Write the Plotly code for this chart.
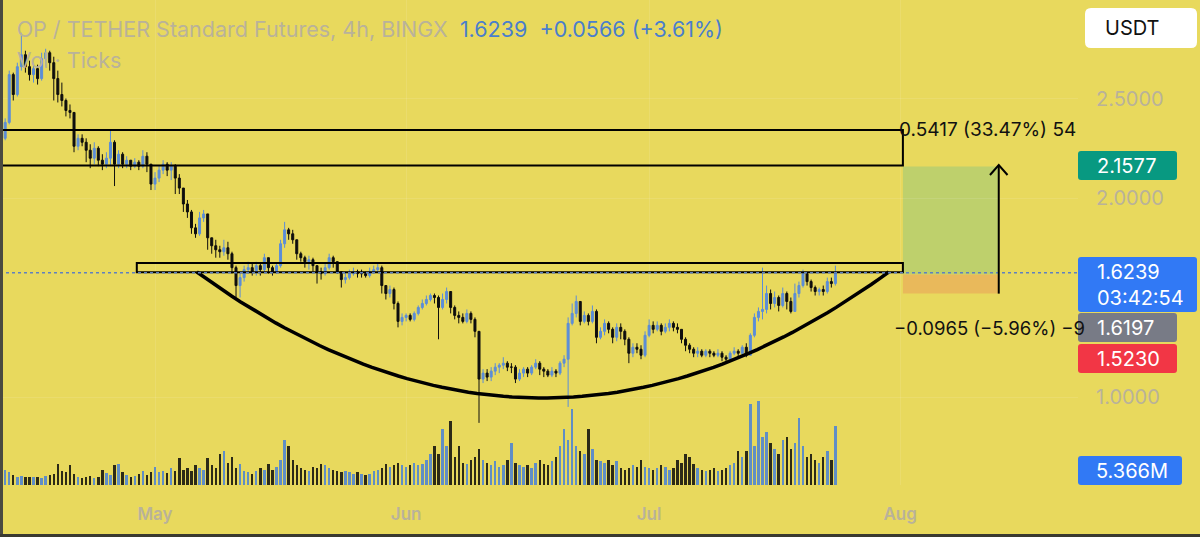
import numpy as np
import pandas as pd
import plotly.graph_objects as go

# ---------------- data (12h candles, OP/USDT) ----------------
START = "2023-04-11 12:00"
FIRST_OPEN = 2.28

close = [
    2.27, 2.30, 2.38, 2.62, 2.52, 2.66, 2.72, 2.66, 2.62, 2.65,
    2.60, 2.70, 2.73, 2.68, 2.60, 2.52, 2.49, 2.44, 2.43, 2.26,
    2.30, 2.28, 2.24, 2.20, 2.25, 2.19, 2.17, 2.20, 2.28, 2.17,
    2.22, 2.17, 2.19, 2.16, 2.18, 2.16, 2.21, 2.17, 2.07, 2.10,
    2.14, 2.17, 2.14, 2.16, 2.10, 2.05, 1.97, 1.93, 1.85, 1.82,
    1.90, 1.92, 1.80, 1.76, 1.74, 1.73, 1.75, 1.72, 1.65, 1.56,
    1.60, 1.64, 1.65, 1.63, 1.66, 1.64, 1.70, 1.65, 1.63, 1.66,
    1.77, 1.84, 1.82, 1.79, 1.72, 1.70, 1.68, 1.69, 1.66, 1.63,
    1.62, 1.65, 1.70, 1.68, 1.63, 1.59, 1.60, 1.62, 1.63, 1.62,
    1.62, 1.61, 1.63, 1.64, 1.65, 1.56, 1.52, 1.54, 1.47, 1.38,
    1.40, 1.41, 1.39, 1.42, 1.45, 1.47, 1.49, 1.51, 1.50, 1.45,
    1.49, 1.53, 1.45, 1.41, 1.40, 1.38, 1.42, 1.39, 1.33, 1.09,
    1.12, 1.10, 1.13, 1.15, 1.16, 1.17, 1.15, 1.15, 1.09, 1.12,
    1.14, 1.12, 1.15, 1.17, 1.14, 1.13, 1.11, 1.13, 1.12, 1.17,
    1.19, 1.37, 1.42, 1.48, 1.38, 1.41, 1.38, 1.43, 1.30, 1.33,
    1.37, 1.34, 1.30, 1.35, 1.33, 1.29, 1.22, 1.25, 1.24, 1.21,
    1.31, 1.36, 1.34, 1.36, 1.33, 1.35, 1.37, 1.35, 1.34, 1.29,
    1.26, 1.24, 1.22, 1.23, 1.21, 1.23, 1.22, 1.21, 1.22, 1.20,
    1.19, 1.22, 1.23, 1.22, 1.25, 1.21, 1.31, 1.40, 1.43, 1.44,
    1.52, 1.47, 1.50, 1.46, 1.52, 1.48, 1.43, 1.52, 1.56, 1.62,
    1.58, 1.55, 1.53, 1.54, 1.53, 1.58, 1.57, 1.6239,
]
high = [
    2.30, 2.32, 2.40, 2.64, 2.63, 2.68, 2.83, 2.74, 2.69, 2.68,
    2.67, 2.73, 2.75, 2.74, 2.71, 2.64, 2.58, 2.50, 2.47, 2.43,
    2.32, 2.32, 2.30, 2.27, 2.28, 2.26, 2.22, 2.23, 2.34, 2.29,
    2.24, 2.23, 2.21, 2.19, 2.20, 2.19, 2.24, 2.23, 2.17, 2.13,
    2.16, 2.19, 2.18, 2.18, 2.17, 2.12, 2.05, 1.99, 1.94, 1.87,
    1.93, 1.94, 1.92, 1.80, 1.79, 1.76, 1.79, 1.78, 1.73, 1.66,
    1.63, 1.66, 1.68, 1.67, 1.68, 1.67, 1.72, 1.70, 1.66, 1.67,
    1.79, 1.88, 1.85, 1.84, 1.79, 1.73, 1.71, 1.71, 1.70, 1.66,
    1.65, 1.67, 1.72, 1.71, 1.68, 1.63, 1.63, 1.64, 1.65, 1.64,
    1.64, 1.63, 1.65, 1.66, 1.67, 1.66, 1.56, 1.56, 1.55, 1.48,
    1.42, 1.42, 1.42, 1.43, 1.46, 1.49, 1.51, 1.52, 1.52, 1.51,
    1.52, 1.55, 1.53, 1.46, 1.43, 1.42, 1.44, 1.43, 1.40, 1.33,
    1.14, 1.14, 1.15, 1.17, 1.17, 1.20, 1.18, 1.17, 1.16, 1.14,
    1.15, 1.15, 1.16, 1.19, 1.18, 1.15, 1.14, 1.15, 1.14, 1.18,
    1.21, 1.40, 1.47, 1.51, 1.48, 1.43, 1.42, 1.46, 1.44, 1.35,
    1.39, 1.38, 1.35, 1.37, 1.37, 1.34, 1.30, 1.27, 1.27, 1.26,
    1.33, 1.39, 1.38, 1.38, 1.37, 1.37, 1.39, 1.38, 1.37, 1.34,
    1.30, 1.27, 1.25, 1.25, 1.24, 1.24, 1.24, 1.23, 1.24, 1.23,
    1.21, 1.23, 1.25, 1.24, 1.26, 1.27, 1.32, 1.42, 1.45, 1.65,
    1.56, 1.54, 1.53, 1.51, 1.55, 1.53, 1.50, 1.57, 1.58, 1.64,
    1.62, 1.59, 1.56, 1.55, 1.56, 1.60, 1.60, 1.66,
]
low = [
    2.25, 2.26, 2.29, 2.37, 2.49, 2.51, 2.64, 2.63, 2.59, 2.58,
    2.57, 2.59, 2.66, 2.64, 2.49, 2.48, 2.46, 2.41, 2.40, 2.23,
    2.24, 2.26, 2.18, 2.15, 2.17, 2.16, 2.14, 2.15, 2.16, 2.06,
    2.15, 2.15, 2.15, 2.14, 2.15, 2.14, 2.15, 2.13, 2.04, 2.04,
    2.08, 2.12, 2.11, 2.09, 2.02, 2.02, 1.93, 1.90, 1.82, 1.80,
    1.81, 1.88, 1.74, 1.72, 1.70, 1.70, 1.71, 1.69, 1.62, 1.50,
    1.50, 1.58, 1.62, 1.61, 1.61, 1.61, 1.63, 1.62, 1.61, 1.62,
    1.65, 1.75, 1.79, 1.77, 1.69, 1.68, 1.65, 1.64, 1.63, 1.57,
    1.59, 1.61, 1.64, 1.65, 1.62, 1.55, 1.57, 1.59, 1.61, 1.60,
    1.60, 1.60, 1.60, 1.62, 1.63, 1.52, 1.49, 1.50, 1.44, 1.35,
    1.36, 1.38, 1.38, 1.38, 1.41, 1.44, 1.46, 1.48, 1.47, 1.29,
    1.44, 1.47, 1.42, 1.39, 1.37, 1.37, 1.37, 1.37, 1.30, 0.87,
    1.07, 1.08, 1.08, 1.11, 1.12, 1.14, 1.13, 1.12, 1.07, 1.08,
    1.10, 1.10, 1.11, 1.14, 1.11, 1.10, 1.10, 1.10, 1.10, 1.11,
    1.15, 0.95, 1.36, 1.40, 1.36, 1.37, 1.36, 1.37, 1.27, 1.29,
    1.31, 1.32, 1.27, 1.28, 1.29, 1.26, 1.17, 1.20, 1.22, 1.19,
    1.20, 1.30, 1.32, 1.33, 1.31, 1.32, 1.33, 1.33, 1.32, 1.27,
    1.23, 1.22, 1.20, 1.20, 1.20, 1.20, 1.20, 1.20, 1.20, 1.18,
    1.17, 1.18, 1.21, 1.20, 1.21, 1.20, 1.21, 1.30, 1.38, 1.39,
    1.42, 1.44, 1.45, 1.43, 1.45, 1.44, 1.42, 1.43, 1.50, 1.55,
    1.56, 1.53, 1.51, 1.51, 1.51, 1.52, 1.55, 1.56,
]
volume_m = [
    3.5, 4.5, 5.5, 4.5, 3.5, 3.0, 3.2, 2.8, 3.0, 2.8,
    3.0, 2.6, 3.2, 3.5, 4.0, 7.5, 5.0, 4.5, 7.0, 4.0,
    3.0, 2.5, 2.8, 3.2, 2.6, 3.0, 5.5, 4.2, 3.4, 7.0,
    7.5, 4.5, 3.5, 3.0, 3.2, 4.0, 5.0, 3.6, 4.8, 6.5,
    4.5, 5.0, 4.2, 6.0, 5.0, 9.5, 5.5, 6.0, 5.0, 7.0,
    6.0, 5.5, 9.5, 7.0, 6.0, 11.0, 12.0, 8.0, 10.0, 6.0,
    7.5, 5.0, 4.5, 4.0, 5.0, 6.0, 5.5, 7.5, 5.5, 6.5,
    9.0, 16.0, 14.0, 9.0, 7.0, 6.0, 5.5, 5.0, 6.5, 6.0,
    7.5, 7.0, 6.0, 5.5, 5.0, 4.5, 5.0, 4.5, 4.0, 4.5,
    4.0, 3.5, 4.0, 5.0, 5.5, 6.0, 7.5, 6.5, 7.0, 8.0,
    7.0, 6.5, 7.0, 8.0, 7.0, 7.5, 9.0, 11.0, 14.0, 11.0,
    20.0, 14.0, 23.0, 10.0, 14.0, 8.0, 7.5, 9.0, 10.0, 13.0,
    9.0, 8.0, 7.0, 8.5, 6.5, 7.0, 9.0, 15.0, 8.0, 7.0,
    6.5, 7.0, 6.0, 8.0, 9.0, 7.5, 7.0, 8.5, 10.0, 14.0,
    20.0, 16.0, 27.0, 14.0, 12.0, 11.0, 20.0, 13.0, 9.0, 8.5,
    8.0, 9.0, 7.0, 8.5, 6.0, 5.5, 6.0, 7.0, 6.5, 9.0,
    6.5, 6.0, 5.5, 6.0, 7.0, 6.5, 5.5, 6.0, 9.0, 8.0,
    11.0, 10.0, 7.5, 6.0, 5.5, 5.0, 5.5, 6.0, 5.0, 5.5,
    6.0, 7.0, 8.0, 12.0, 10.0, 12.0, 29.0, 14.0, 30.0, 17.0,
    19.0, 15.0, 13.0, 11.0, 16.0, 17.0, 13.0, 15.0, 24.0, 14.0,
    10.0, 11.0, 9.0, 8.0, 10.0, 12.0, 9.0, 21.0,
]

# axis / label values (1.5000 sits under the price badges in the reference)
month_ticks = ["2023-05-01", "2023-06-01", "2023-07-01", "2023-08-01"]
month_labels = ["May", "Jun", "Jul", "Aug"]
price_ticks = [1.0, 2.0, 2.5]
price_labels = ["1.0000", "2.0000", "2.5000"]

LAST = 1.6239
TARGET = 2.1577
ENTRY = 1.6160
STOP = 1.5195

# drawing anchors (dates / prices)
ZONE_HI = (2.342, 2.163)
ZONE_LO = (1.673, 1.627)
ZONE_HI_START = "2023-04-01"
ZONE_LO_START = "2023-04-28 18:00"
DRAW_END = "2023-08-01 08:00"
POS_END = "2023-08-13 04:00"
ARC_ANCHORS = [("2023-05-06 04:00", 1.628), ("2023-06-17 21:00", 0.362), ("2023-07-30 14:00", 1.628)]

X_RANGE = ["2023-04-11 20:40", "2023-08-22 22:50"]
Y_RANGE = [0.5578, 2.995]
VOL_RANGE = [0, 173]

# ---------------- styling ----------------
BG = "#E8D95D"
GREY = "#B9B29A"
UP = "#5B8DD8"
DOWN = "#0E0E0E"
FONT = "Inter, Roboto, sans-serif"

PW, PH = 1078, 485  # plot area size in px


def pp(px, py):
    return px / PW, (PH - py) / PH


def rrect(x0, y0, x1, y1, r):
    pts = [("M", [(x0 + r, y0)]), ("L", [(x1 - r, y0)]), ("Q", [(x1, y0), (x1, y0 + r)]),
           ("L", [(x1, y1 - r)]), ("Q", [(x1, y1), (x1 - r, y1)]), ("L", [(x0 + r, y1)]),
           ("Q", [(x0, y1), (x0, y1 - r)]), ("L", [(x0, y0 + r)]), ("Q", [(x0, y0), (x0 + r, y0)])]
    s = ""
    for cmd, ps in pts:
        s += cmd + " " + " ".join("%.5f,%.5f" % pp(a, b) for a, b in ps) + " "
    return s + "Z"


times = pd.date_range(START, periods=len(close), freq="12h")
opens = [FIRST_OPEN] + close[:-1]
vol_colors = ["rgba(72,128,215,0.85)" if c >= o else "rgba(10,10,10,0.85)" for o, c in zip(opens, close)]

fig = go.Figure()

# legend texts (under the candles)
fig.add_trace(go.Scatter(
    x=["2023-04-13 22:00"], y=[2.838], mode="text",
    text=["OP / TETHER Standard Futures, 4h, BINGX\u00a0\u00a0<span style='color:#4A7ECC'>1.6239\u00a0\u00a0+0.0566 (+3.61%)</span>"],
    textposition="middle right", textfont=dict(size=21.5, color=GREY, family=FONT),
    hoverinfo="skip", showlegend=False, cliponaxis=False))
fig.add_trace(go.Scatter(
    x=["2023-04-13 22:00"], y=[2.678], mode="text", text=["Vol \u00b7 Ticks"],
    textposition="middle right", textfont=dict(size=21.5, color=GREY, family=FONT),
    hoverinfo="skip", showlegend=False, cliponaxis=False))

# arc drawing (quadratic curve through the three anchor points)
a_t = [pd.Timestamp(a[0]).value for a in ARC_ANCHORS]
a_p = [a[1] for a in ARC_ANCHORS]
tt = np.linspace(0, 1, 80)
arc_x = (1 - tt) ** 2 * a_t[0] + 2 * (1 - tt) * tt * a_t[1] + tt ** 2 * a_t[2]
arc_y = (1 - tt) ** 2 * a_p[0] + 2 * (1 - tt) * tt * a_p[1] + tt ** 2 * a_p[2]
fig.add_trace(go.Scatter(x=pd.to_datetime(arc_x), y=arc_y, mode="lines",
                         line=dict(color="#000000", width=3.5), hoverinfo="skip", showlegend=False))

# candles
fig.add_trace(go.Candlestick(
    x=times, open=opens, high=high, low=low, close=close,
    increasing=dict(line=dict(color=UP, width=1), fillcolor=UP),
    decreasing=dict(line=dict(color=DOWN, width=1), fillcolor=DOWN),
    whiskerwidth=0, showlegend=False, hoverinfo="skip"))

# volume
fig.add_trace(go.Bar(x=times, y=volume_m, yaxis="y2", marker=dict(color=vol_colors, line=dict(width=0)),
                     width=12 * 3600 * 1000 * 0.6, showlegend=False, hoverinfo="skip"))

# arrow head of long position
tip = pd.Timestamp(POS_END)
fig.add_trace(go.Scatter(x=[tip - pd.Timedelta(hours=26), tip, tip + pd.Timedelta(hours=26)],
                         y=[TARGET - 0.042, TARGET + 0.008, TARGET - 0.042], mode="lines",
                         line=dict(color="#000000", width=2), hoverinfo="skip", showlegend=False))

shapes = []
# long position boxes
shapes.append(dict(type="rect", xref="x", yref="y", x0=DRAW_END, x1=POS_END, y0=ENTRY, y1=TARGET,
                   fillcolor="#BED06C", line=dict(width=0), layer="below"))
shapes.append(dict(type="rect", xref="x", yref="y", x0=DRAW_END, x1=POS_END, y0=STOP, y1=ENTRY,
                   fillcolor="#E9B95B", line=dict(width=0), layer="below"))
# zones
shapes.append(dict(type="rect", xref="x", yref="y", x0=ZONE_HI_START, x1=DRAW_END, y0=ZONE_HI[1], y1=ZONE_HI[0],
                   line=dict(color="#000000", width=2), fillcolor="rgba(0,0,0,0)"))
shapes.append(dict(type="rect", xref="x", yref="y", x0=ZONE_LO_START, x1=DRAW_END, y0=ZONE_LO[1], y1=ZONE_LO[0],
                   line=dict(color="#000000", width=2), fillcolor="rgba(0,0,0,0)"))
# current price dotted line
shapes.append(dict(type="line", xref="paper", yref="y", x0=0, x1=1, y0=LAST, y1=LAST,
                   line=dict(color="#5E80C0", width=1.5, dash="dot")))
# arrow shaft
shapes.append(dict(type="line", xref="x", yref="y", x0=POS_END, x1=POS_END, y0=STOP, y1=TARGET + 0.008,
                   line=dict(color="#000000", width=2)))
# frame lines
shapes.append(dict(type="line", xref="paper", yref="paper", x0=pp(1.5, 0)[0], x1=pp(1.5, 0)[0],
                   y0=pp(0, 0)[1], y1=pp(0, 537)[1], line=dict(color="#4A4A40", width=3)))
shapes.append(dict(type="line", xref="paper", yref="paper", x0=0, x1=pp(1200, 0)[0],
                   y0=pp(0, 535.5)[1], y1=pp(0, 535.5)[1], line=dict(color="#3A3A30", width=3)))

annotations = []
# measurement texts
annotations.append(dict(xref="x", yref="y", x=DRAW_END, y=ZONE_HI[0], xshift=-6, text="0.5417 (33.47%) 54",
                        showarrow=False, xanchor="left", yanchor="middle",
                        font=dict(size=19, color="#111111", family=FONT)))
annotations.append(dict(xref="x", yref="y", x=DRAW_END, y=1.347, xshift=-11, text="\u22120.0965 (\u22125.96%) \u22129",
                        showarrow=False, xanchor="left", yanchor="middle",
                        font=dict(size=18.5, color="#111111", family=FONT)))

# badges (price scale)
badges = [
    (1085, 8, 1197, 48, "#FFFFFF", "USDT", "#111111", 1103, 6),
    (1078, 151, 1177, 180, "#089981", "2.1577", "#FFFFFF", 1095, 3),
    (1078, 257, 1197, 312, "#3179F5", "1.6239<br>03:42:54", "#FFFFFF", 1095, 3),
    (1078, 313, 1177, 342, "#787B86", "1.6197", "#FFFFFF", 1095, 3),
    (1078, 344, 1177, 373, "#F23645", "1.5230", "#FFFFFF", 1095, 3),
    (1078, 456, 1182, 485, "#3179F5", "5.366M", "#FFFFFF", 1094, 3),
]
for bx0, by0, bx1, by1, col, txt, tcol, tx, r in badges:
    shapes.append(dict(type="path", xref="paper", yref="paper", path=rrect(bx0, by0, bx1, by1, r),
                       fillcolor=col, line=dict(width=0), layer="above"))
    ax_, ay_ = pp(tx, (by0 + by1) / 2)
    annotations.append(dict(xref="paper", yref="paper", x=ax_, y=ay_, text=txt, showarrow=False,
                            xanchor="left", yanchor="middle", align="left",
                            font=dict(size=20, color=tcol, family=FONT)))

fig.update_layout(
    template="none",
    width=1200, height=537,
    margin=dict(l=0, r=122, t=0, b=52, pad=0),
    paper_bgcolor=BG, plot_bgcolor=BG,
    showlegend=False, hovermode=False, bargap=0,
    shapes=shapes, annotations=annotations,
    xaxis=dict(type="date", range=X_RANGE, rangeslider=dict(visible=False),
               tickmode="array", tickvals=month_ticks, ticktext=month_labels,
               showgrid=True, gridcolor="rgba(255,255,255,0.10)", gridwidth=1,
               zeroline=False, showline=False, ticks="", ticklabelstandoff=17,
               tickfont=dict(size=17, color=GREY, family=FONT, weight=600), automargin=False, fixedrange=True),
    yaxis=dict(range=Y_RANGE, side="right", tickmode="array", tickvals=price_ticks, ticktext=price_labels,
               showgrid=True, gridcolor="rgba(255,255,255,0.10)", gridwidth=1,
               zeroline=False, showline=False, ticks="", ticklabelstandoff=17,
               tickfont=dict(size=20, color=GREY, family=FONT), automargin=False, fixedrange=True),
    yaxis2=dict(range=VOL_RANGE, overlaying="y", visible=False, fixedrange=True),
)

fig.write_html("out.html", config={"displayModeBar": False})
